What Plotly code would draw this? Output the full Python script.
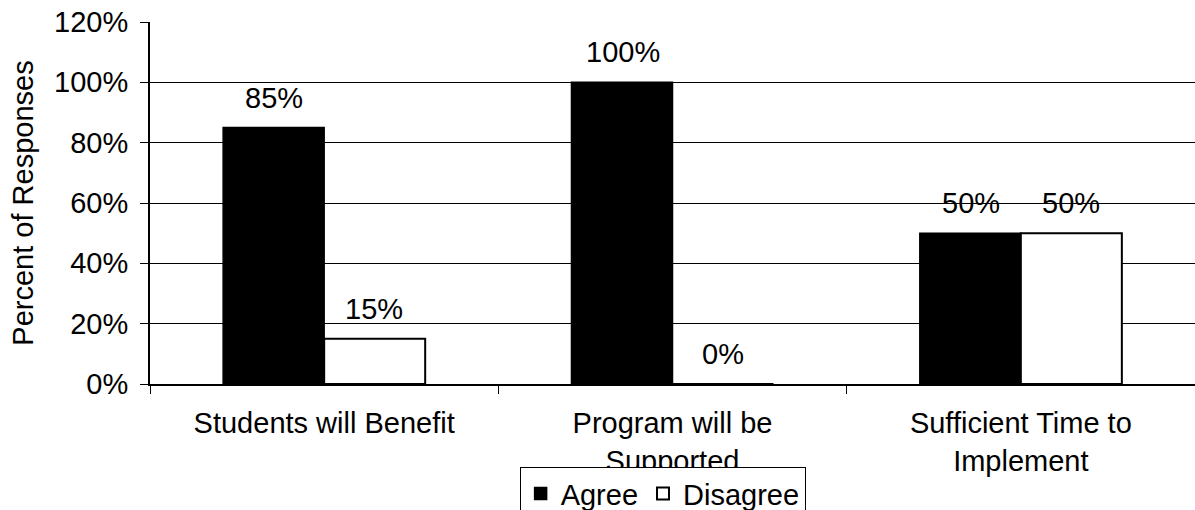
import plotly.graph_objects as go

categories = ["Students will Benefit", "Program will be<br>Supported", "Sufficient Time to<br>Implement"]
agree = [0.85, 1.00, 0.50]
disagree = [0.15, 0.00, 0.50]
y_ticks = [0, 0.2, 0.4, 0.6, 0.8, 1.0, 1.2]

FONT = "Liberation Sans, Arial, sans-serif"

fig = go.Figure()
fig.add_trace(go.Bar(x=categories, y=agree, name="Agree",
                     marker=dict(color="black", line=dict(color="black", width=1.5))))
fig.add_trace(go.Bar(x=categories, y=disagree, name="Disagree",
                     marker=dict(color="white", line=dict(color="black", width=2))))

annotations = []
for i, c in enumerate(categories):
    for vals, shift in ((agree, -50), (disagree, 50)):
        annotations.append(dict(x=c, y=vals[i], xref="x", yref="y", text=f"{round(vals[i]*100)}%",
                                showarrow=False, xshift=shift, yshift=30, yanchor="middle",
                                font=dict(size=29, color="black", family=FONT)))

fig.update_layout(
    width=1195, height=510,
    margin=dict(l=150, r=0, t=22, b=126),
    paper_bgcolor="white", plot_bgcolor="white",
    barmode="group", bargap=0.42, bargroupgap=0,
    font=dict(family=FONT, color="black", size=29),
    showlegend=True,
    legend=dict(orientation="h", x=0.5545, xref="container", xanchor="center",
                y=0.084, yref="container", yanchor="top",
                bordercolor="black", borderwidth=1, font=dict(size=29),
                itemwidth=30, tracegroupgap=0),
    annotations=annotations,
)
fig.update_xaxes(showline=True, linecolor="black", linewidth=2, ticks="outside",
                 tickson="boundaries", ticklen=8, tickcolor="black", tickwidth=1,
                 showgrid=False, tickfont=dict(size=29), automargin=False,
                 ticklabelstandoff=12)
fig.update_yaxes(range=[0, 1.2], tickvals=y_ticks, tickformat=".0%", showline=True,
                 linecolor="black", linewidth=2, ticks="outside", ticklen=8,
                 tickcolor="black", showgrid=True, gridcolor="black", gridwidth=1,
                 tickfont=dict(size=29), zeroline=False, automargin=False,
                 ticklabelstandoff=6,
                 title=dict(text="Percent of Responses", font=dict(size=29), standoff=12))

fig.write_html("out.html")
